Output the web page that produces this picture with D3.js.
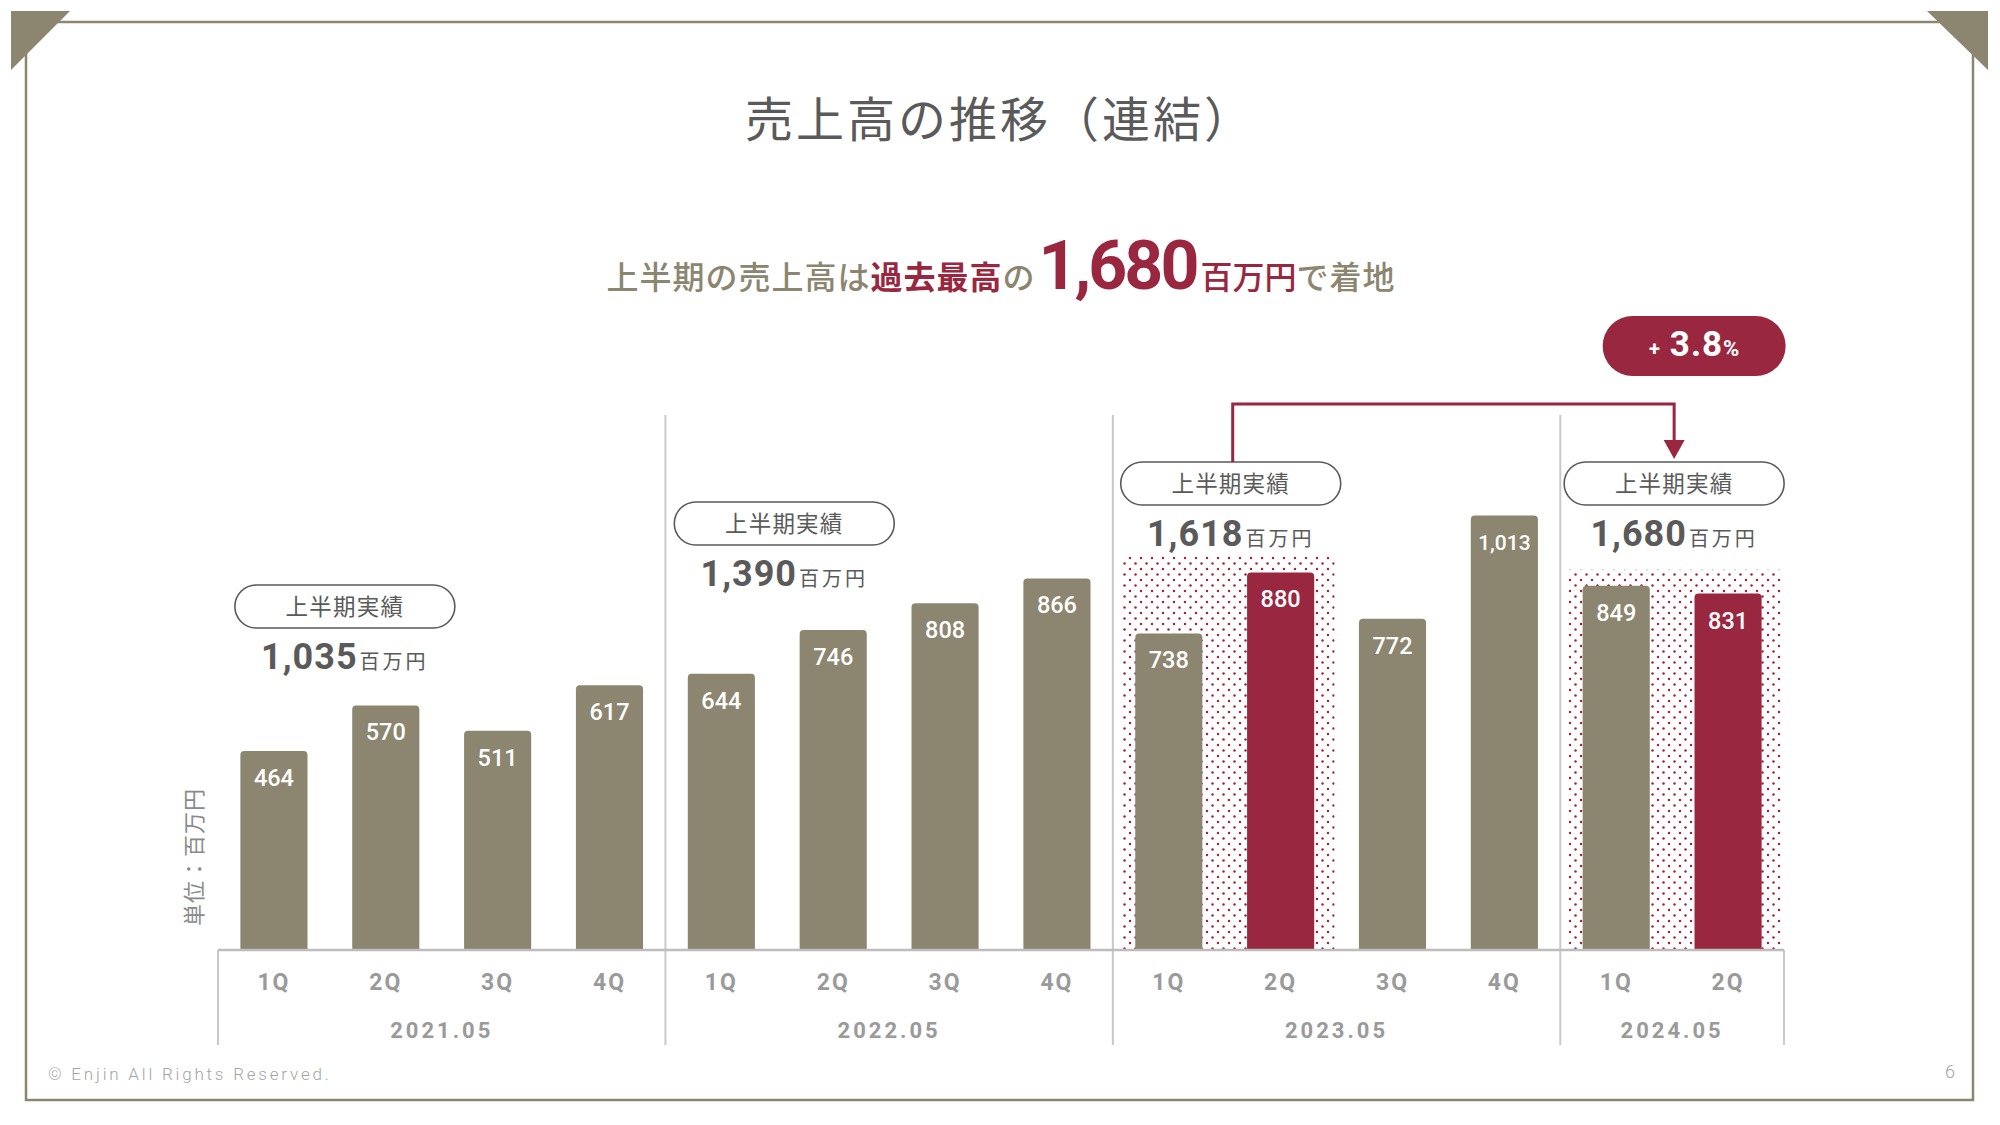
<!DOCTYPE html>
<html><head><meta charset="utf-8">
<script src="https://cdn.jsdelivr.net/npm/d3@7"></script>
<style>body{margin:0;background:#fff}svg{display:block}</style>
</head><body><svg id="c" width="2000" height="1125"></svg>
<script>
// ---- data ----
const years = ["2021.05", "2022.05", "2023.05", "2024.05"];
const quarters = ["1Q", "2Q", "3Q", "4Q"];
const sales2021 = [464, 570, 511, 617];
const sales2022 = [644, 746, 808, 866];
const sales2023 = [738, 880, 772, 1013];
const sales2024 = [849, 831];
const h1Totals = [1035, 1390, 1618, 1680];
const highlightBars = ["2023.05|2Q", "2024.05|2Q"];
const dottedYears = ["2023.05", "2024.05"];
const growthPct = "3.8";
const titleText = "売上高の推移（連結）";
const unitLabel = "単位：百万円";
const h1Label = "上半期実績";

// ---- setup ----
const OLIVE = "#8c8670", RED = "#9a2740", GRAY = "#5a5a5a";
const JP = "'Noto Sans CJK JP','Noto Sans',sans-serif";
const NUM = "Roboto,'Noto Sans',sans-serif";
const svg = d3.select("#c");
const salesByYear = [sales2021, sales2022, sales2023, sales2024];
const rows = [];
years.forEach((yr, i) => salesByYear[i].forEach((v, j) => rows.push({year: yr, q: quarters[j], value: v, key: yr + "|" + quarters[j]})));

const x = d3.scaleBand().domain(rows.map(d => d.key)).range([218, 1784]).paddingInner(0.4).paddingOuter(0.2);
const y = d3.scaleLinear().domain([0, 1000]).range([950, 521]);
const step = x.step(), bw = x.bandwidth(), gap = (step - bw) / 2;
const slotL = k => x(k) - gap, slotR = k => x(k) + bw + gap;
const groupKeys = yr => rows.filter(d => d.year === yr).map(d => d.key);

const defs = svg.append("defs");
const pat = defs.append("pattern").attr("id", "dots").attr("patternUnits", "userSpaceOnUse").attr("width", 11).attr("height", 11);
pat.append("circle").attr("cx", 2.5).attr("cy", 2.5).attr("r", 1.25).attr("fill", RED);
pat.append("circle").attr("cx", 8).attr("cy", 8).attr("r", 1.25).attr("fill", RED);

// ---- frame ----
svg.append("rect").attr("x", 26).attr("y", 22).attr("width", 1947).attr("height", 1078)
  .attr("fill", "none").attr("stroke", OLIVE).attr("stroke-width", 2.5);
svg.append("path").attr("d", "M11,11H70L11,70Z").attr("fill", OLIVE);
svg.append("path").attr("d", "M1927,11H1988V70Z").attr("fill", OLIVE);

// ---- title ----
svg.append("text").attr("x", 1000).attr("y", 137).attr("text-anchor", "middle")
  .attr("font-family", JP).attr("font-size", 48).attr("font-weight", 400).attr("letter-spacing", 3)
  .attr("fill", GRAY).text(titleText);

// ---- subtitle ----
const sub = svg.append("text").attr("x", 1001).attr("y", 289).attr("text-anchor", "middle").attr("font-family", JP);
sub.append("tspan").attr("font-size", 32).attr("font-weight", 500).attr("fill", OLIVE).attr("letter-spacing", 1).text("上半期の売上高は");
sub.append("tspan").attr("font-size", 32).attr("font-weight", 700).attr("fill", RED).attr("letter-spacing", 1).text("過去最高");
sub.append("tspan").attr("font-size", 32).attr("font-weight", 500).attr("fill", OLIVE).text("の");
sub.append("tspan").attr("font-family", NUM).attr("font-size", 68).attr("font-weight", 700).attr("fill", RED)
  .attr("letter-spacing", -3).attr("dx", 4).text(d3.format(",")(h1Totals[3]));
sub.append("tspan").attr("font-size", 32).attr("font-weight", 500).attr("fill", RED).attr("dx", 4).text("百万円");
sub.append("tspan").attr("font-size", 32).attr("font-weight", 500).attr("fill", OLIVE).attr("letter-spacing", 1).text("で着地");

// ---- dotted H1 backgrounds ----
dottedYears.forEach(yr => {
  const ks = groupKeys(yr).slice(0, 2);
  const top = y(d3.max(rows.filter(d => ks.includes(d.key)), d => d.value)) - 16;
  svg.append("rect").attr("x", slotL(ks[0]) + 8).attr("y", top)
    .attr("width", slotR(ks[1]) - 2 - (slotL(ks[0]) + 8)).attr("height", y(0) - top)
    .attr("fill", "url(#dots)");
});

// ---- separators ----
years.slice(1).forEach(yr => {
  const xx = slotL(groupKeys(yr)[0]);
  svg.append("line").attr("x1", xx).attr("x2", xx).attr("y1", 415).attr("y2", 1045)
    .attr("stroke", "#c9c9c9").attr("stroke-width", 2);
});
[x.range()[0], x.range()[1]].forEach(xx => svg.append("line").attr("x1", xx).attr("x2", xx).attr("y1", 950).attr("y2", 1045)
  .attr("stroke", "#c9c9c9").attr("stroke-width", 2));

// ---- bars ----
const barPath = (x0, y0, w, h, r) => `M${x0},${y0 + h}V${y0 + r}Q${x0},${y0} ${x0 + r},${y0}H${x0 + w - r}Q${x0 + w},${y0} ${x0 + w},${y0 + r}V${y0 + h}Z`;
svg.append("g").selectAll("path").data(rows).join("path")
  .attr("d", d => barPath(x(d.key), y(d.value), bw, y(0) - y(d.value), 4))
  .attr("fill", d => highlightBars.includes(d.key) ? RED : OLIVE);
svg.append("g").selectAll("text").data(rows).join("text")
  .attr("x", d => x(d.key) + bw / 2).attr("y", d => y(d.value) + 35).attr("text-anchor", "middle")
  .attr("font-family", NUM).attr("font-weight", 500).attr("font-size", d => d.value >= 1000 ? 21 : 23.5)
  .attr("fill", "#fff").text(d => d3.format(",")(d.value));

// ---- axis ----
svg.append("line").attr("x1", 218).attr("x2", 1784).attr("y1", 950).attr("y2", 950)
  .attr("stroke", "#bdbdbd").attr("stroke-width", 2.5);
const ax = svg.append("g").attr("transform", "translate(0,950)")
  .call(d3.axisBottom(x).tickSize(0).tickPadding(40).tickFormat(k => k.split("|")[1]));
ax.select(".domain").remove();
ax.selectAll("text").attr("font-family", NUM).attr("font-weight", 700).attr("font-size", 23)
  .attr("letter-spacing", 2).attr("fill", "#9a9a9a").attr("dy", 0);
years.forEach(yr => {
  const ks = groupKeys(yr);
  svg.append("text").attr("x", (slotL(ks[0]) + slotR(ks[ks.length - 1])) / 2).attr("y", 1038)
    .attr("text-anchor", "middle").attr("font-family", NUM).attr("font-weight", 700).attr("font-size", 22)
    .attr("letter-spacing", 3).attr("fill", "#9a9a9a").text(yr);
});
svg.append("text").attr("transform", "translate(202,857) rotate(-90)").attr("text-anchor", "middle")
  .attr("font-family", JP).attr("font-size", 22).attr("fill", "#8a8a8a").attr("letter-spacing", 1).text(unitLabel);

// ---- H1 annotations ----
const annTop = [585, 502, 462, 462];
const annDx = [15, 7, 6, 2];
const annCx = years.map((yr, i) => {
  const ks = groupKeys(yr);
  return (x(ks[0]) + x(ks[1])) / 2 + bw / 2 + annDx[i];
});
years.forEach((yr, i) => {
  const cx = annCx[i], top = annTop[i];
  svg.append("rect").attr("x", cx - 110).attr("y", top).attr("width", 220).attr("height", 43).attr("rx", 21.5)
    .attr("fill", "#fff").attr("stroke", GRAY).attr("stroke-width", 1.6);
  svg.append("text").attr("x", cx).attr("y", top + 30).attr("text-anchor", "middle")
    .attr("font-family", JP).attr("font-size", 22.5).attr("letter-spacing", 1.2).attr("fill", GRAY).text(h1Label);
  const t = svg.append("text").attr("x", cx).attr("y", top + 84).attr("text-anchor", "middle").attr("fill", GRAY);
  t.append("tspan").attr("font-family", NUM).attr("font-weight", 700).attr("font-size", 36).attr("letter-spacing", 1)
    .text(d3.format(",")(h1Totals[i]));
  t.append("tspan").attr("font-family", JP).attr("font-size", 20).attr("letter-spacing", 3).attr("dx", 2).text("百万円");
});

// ---- comparison arrow ----
const ax1 = annCx[2] + 2, ax2 = annCx[3];
svg.append("path").attr("d", `M${ax1},${annTop[2]}V404H${ax2}V442`).attr("fill", "none")
  .attr("stroke", RED).attr("stroke-width", 3);
svg.append("path").attr("d", `M${ax2 - 10.5},440H${ax2 + 10.5}L${ax2},${annTop[3] - 3}Z`).attr("fill", RED);
const pcx = ax2 + 20;
svg.append("rect").attr("x", pcx - 91.5).attr("y", 316).attr("width", 183).attr("height", 60).attr("rx", 30).attr("fill", RED);
const pt = svg.append("text").attr("x", pcx).attr("y", 356).attr("text-anchor", "middle").attr("fill", "#fff").attr("font-family", NUM).attr("font-weight", 700);
pt.append("tspan").attr("font-size", 20).text("+");
pt.append("tspan").attr("font-size", 35).attr("dx", 10).attr("letter-spacing", 1).text(growthPct);
pt.append("tspan").attr("font-size", 22).text("%");

// ---- footer ----
svg.append("text").attr("x", 48).attr("y", 1080).attr("font-family", NUM).attr("font-weight", 300).attr("font-size", 17)
  .attr("letter-spacing", 2.8).attr("fill", "#a5a5a5").text("© Enjin All Rights Reserved.");
svg.append("text").attr("x", 1955).attr("y", 1078).attr("text-anchor", "end").attr("font-family", NUM).attr("font-weight", 300)
  .attr("font-size", 18).attr("fill", "#a5a5a5").text("6");
</script></body></html>
